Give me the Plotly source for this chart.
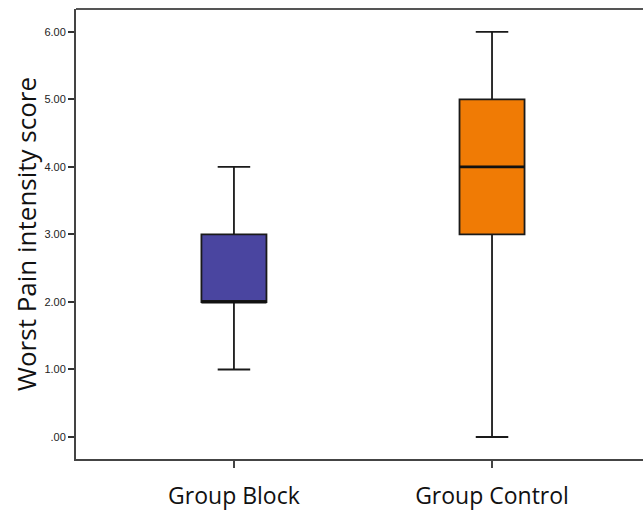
import plotly.graph_objects as go

categories = ["Group Block", "Group Control"]
q1 = [2.0, 3.0]
median = [2.0, 4.0]
q3 = [3.0, 5.0]
lower = [1.0, 0.0]
upper = [4.0, 6.0]
colors = ["#4A45A0", "#F07B05"]
tick_vals = [0, 1, 2, 3, 4, 5, 6]
tick_text = [".00", "1.00", "2.00", "3.00", "4.00", "5.00", "6.00"]

box_w = 0.252

fig = go.Figure()
for i, c in enumerate(categories):
    fig.add_trace(go.Box(
        x=[i], q1=[q1[i]], median=[median[i]], q3=[q3[i]],
        lowerfence=[lower[i]], upperfence=[upper[i]],
        fillcolor=colors[i], line=dict(color="#1a1a1a", width=1.8),
        width=box_w, whiskerwidth=0.5, boxpoints=False, showlegend=False,
        hoverinfo="skip",
    ))
    # thicker median line, as in the reference
    fig.add_trace(go.Scatter(
        x=[i - box_w / 2, i + box_w / 2], y=[median[i], median[i]],
        mode="lines", line=dict(color="#111111", width=2.8),
        showlegend=False, hoverinfo="skip",
    ))

fig.update_layout(
    width=643, height=511,
    margin=dict(l=76, r=0, t=9, b=52),
    paper_bgcolor="white", plot_bgcolor="white",
    xaxis=dict(
        range=[-0.612, 1.585], tickvals=[0, 1], ticktext=categories,
        showgrid=False, zeroline=False, showline=True, linecolor="#444444", linewidth=1.5,
        ticks="outside", ticklen=7, tickwidth=1.5, tickcolor="#444444",
        ticklabelstandoff=9,
        tickfont=dict(family="Open Sans", size=23, color="#111111"),
    ),
    yaxis=dict(
        range=[-0.326, 6.34], tickvals=tick_vals, ticktext=tick_text,
        showgrid=False, zeroline=False, showline=True, linecolor="#444444", linewidth=2,
        ticks="outside", ticklen=6, tickwidth=1.5, tickcolor="#333333",
        tickfont=dict(family="Liberation Sans", size=11, color="#222222"),
        title=dict(text="Worst Pain intensity score", standoff=0,
                   font=dict(family="Open Sans", size=26, color="#111111")),
    ),
    shapes=[dict(type="line", xref="paper", yref="paper", x0=0, x1=1, y0=1, y1=1,
                 line=dict(color="#555555", width=2))],
)

fig.write_html("out.html", config={"displayModeBar": False},
               post_script="document.body.style.margin='0';document.body.style.overflow='hidden';")
